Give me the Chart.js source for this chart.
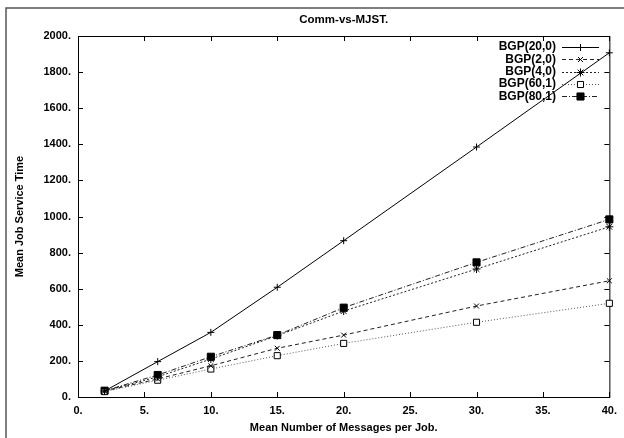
<!DOCTYPE html>
<html>
<head>
<meta charset="utf-8">
<title>Comm-vs-MJST</title>
<script src="https://cdn.jsdelivr.net/npm/chart.js"></script>
<style>
  html, body { margin: 0; padding: 0; background: #fff; }
  canvas { display: block; }
</style>
</head>
<body>
<canvas id="chart" width="624" height="438"></canvas>
<script>
// messages per job (x) and mean job service time for each BGP setting
const messages = [2, 6, 10, 15, 20, 30, 40];
const bgp20_0 = [33, 196, 358, 608, 866, 1385, 1907];
const bgp2_0  = [33, 100, 173, 270, 343, 504, 644];
const bgp4_0  = [33, 112, 210, 340, 476, 709, 943];
const bgp60_1 = [30, 93, 155, 229, 297, 414, 519];
const bgp80_1 = [35, 122, 223, 343, 495, 746, 984];

const seriesNames = ['BGP(20,0)', 'BGP(2,0)', 'BGP(4,0)', 'BGP(60,1)', 'BGP(80,1)'];
const xTicks = [0, 5, 10, 15, 20, 25, 30, 35, 40];
const yTicks = [0, 200, 400, 600, 800, 1000, 1200, 1400, 1600, 1800, 2000];

const FONT = 'Liberation Sans, Arial, sans-serif';

function toPoints(values) {
  return values.map((v, i) => ({ x: messages[i], y: v }));
}

const datasets = [
  { label: seriesNames[0], data: toPoints(bgp20_0), borderColor: '#000', borderDash: [],
    pointStyle: 'cross', pointRadius: 3.5, pointBackgroundColor: '#000' },
  { label: seriesNames[1], data: toPoints(bgp2_0), borderColor: '#222', borderDash: [4, 3],
    pointStyle: 'crossRot', pointRadius: 3.5, pointBackgroundColor: '#000' },
  { label: seriesNames[2], data: toPoints(bgp4_0), borderColor: '#222', borderDash: [2, 2],
    pointStyle: 'star', pointRadius: 4, pointBackgroundColor: '#000' },
  { label: seriesNames[3], data: toPoints(bgp60_1), borderColor: '#555', borderDash: [1, 2],
    pointStyle: 'rect', pointRadius: 4.3, pointBackgroundColor: '#fff' },
  { label: seriesNames[4], data: toPoints(bgp80_1), borderColor: '#222', borderDash: [5, 2, 1, 2],
    pointStyle: 'rect', pointRadius: 5, pointBackgroundColor: '#000' },
].map(d => Object.assign({
  borderWidth: 1,
  pointBorderColor: '#000',
  pointBorderWidth: 1,
  tension: 0,
  clip: false,
}, d));

// white page, outer frame and title
const pagePlugin = {
  id: 'page',
  beforeDraw(chart) {
    const ctx = chart.ctx;
    ctx.save();
    ctx.fillStyle = '#fff';
    ctx.fillRect(0, 0, chart.width, chart.height);
    ctx.strokeStyle = '#555';
    ctx.lineWidth = 1.5;
    ctx.beginPath();
    ctx.moveTo(6, chart.height);
    ctx.lineTo(6, 8);
    ctx.lineTo(chart.width, 8);
    ctx.stroke();

    const area = chart.chartArea;
    ctx.fillStyle = '#000';
    ctx.font = 'bold 11.5px ' + FONT;
    ctx.textAlign = 'center';
    ctx.textBaseline = 'middle';
    ctx.fillText('Comm-vs-MJST.', (area.left + area.right) / 2, 20);
    ctx.restore();
  }
};

// plot border with inward ticks on all four sides
const framePlugin = {
  id: 'frame',
  beforeDatasetsDraw(chart) {
    const ctx = chart.ctx;
    const a = chart.chartArea;
    const xs = chart.scales.x, ys = chart.scales.y;
    const len = 5;
    ctx.save();
    ctx.strokeStyle = '#000';
    ctx.lineWidth = 1;
    ctx.strokeRect(a.left + 0.5, a.top + 0.5, a.right - a.left, a.bottom - a.top);
    ctx.beginPath();
    xTicks.forEach(v => {
      const px = Math.round(xs.getPixelForValue(v)) + 0.5;
      ctx.moveTo(px, a.bottom);
      ctx.lineTo(px, a.bottom - len);
      ctx.moveTo(px, a.top);
      ctx.lineTo(px, a.top + len);
    });
    yTicks.forEach(v => {
      const py = Math.round(ys.getPixelForValue(v)) + 0.5;
      ctx.moveTo(a.left, py);
      ctx.lineTo(a.left + len, py);
      ctx.moveTo(a.right, py);
      ctx.lineTo(a.right - len, py);
    });
    ctx.stroke();
    ctx.restore();
  }
};

// key in the top right corner: right-aligned name, then line sample with marker
const keyPlugin = {
  id: 'key',
  afterDraw(chart) {
    const ctx = chart.ctx;
    ctx.save();
    chart.data.datasets.forEach((ds, i) => {
      const y = 47 + 12.3 * i;
      ctx.fillStyle = '#000';
      ctx.font = 'bold 12px ' + FONT;
      ctx.textAlign = 'right';
      ctx.textBaseline = 'middle';
      ctx.fillText(ds.label, 556, y);

      ctx.strokeStyle = ds.borderColor;
      ctx.lineWidth = ds.borderWidth;
      ctx.setLineDash(ds.borderDash);
      ctx.beginPath();
      ctx.moveTo(562, Math.round(y) + 0.5);
      ctx.lineTo(599, Math.round(y) + 0.5);
      ctx.stroke();
      ctx.setLineDash([]);

      ctx.fillStyle = ds.pointBackgroundColor;
      ctx.strokeStyle = ds.pointBorderColor;
      ctx.lineWidth = ds.pointBorderWidth;
      Chart.helpers.drawPoint(ctx, {
        pointStyle: ds.pointStyle,
        radius: ds.pointRadius,
        rotation: 0,
        borderWidth: ds.pointBorderWidth,
      }, 580.5, Math.round(y) + 0.5);
    });
    ctx.restore();
  }
};

new Chart(document.getElementById('chart'), {
  type: 'line',
  data: { datasets },
  plugins: [pagePlugin, framePlugin, keyPlugin],
  options: {
    responsive: false,
    animation: false,
    devicePixelRatio: 1,
    layout: { padding: { left: 0, right: 11, top: 36, bottom: 0 } },
    plugins: {
      legend: { display: false },
      title: { display: false },
      tooltip: { enabled: false },
    },
    scales: {
      x: {
        type: 'linear',
        min: 0,
        max: 40,
        grid: { display: false, drawTicks: false },
        border: { display: false },
        afterFit(scale) { scale.height = 41; },
        afterBuildTicks(scale) { scale.ticks = xTicks.map(v => ({ value: v })); },
        ticks: {
          padding: 7,
          color: '#000',
          font: { family: FONT, size: 11, weight: 'bold' },
          callback: v => v + '.',
        },
        title: {
          display: true,
          text: 'Mean Number of Messages per Job.',
          color: '#000',
          font: { family: FONT, size: 11, weight: 'bold' },
          padding: 3,
        },
      },
      y: {
        min: 0,
        max: 2000,
        grid: { display: false, drawTicks: false },
        border: { display: false },
        afterFit(scale) { scale.width = 78; },
        afterBuildTicks(scale) { scale.ticks = yTicks.map(v => ({ value: v })); },
        ticks: {
          padding: 7,
          color: '#000',
          font: { family: FONT, size: 11, weight: 'bold' },
          callback: v => v + '.',
        },
        title: {
          display: true,
          text: 'Mean Job Service Time',
          color: '#000',
          font: { family: FONT, size: 11, weight: 'bold' },
          padding: 13,
        },
      },
    },
  },
});
</script>
</body>
</html>
